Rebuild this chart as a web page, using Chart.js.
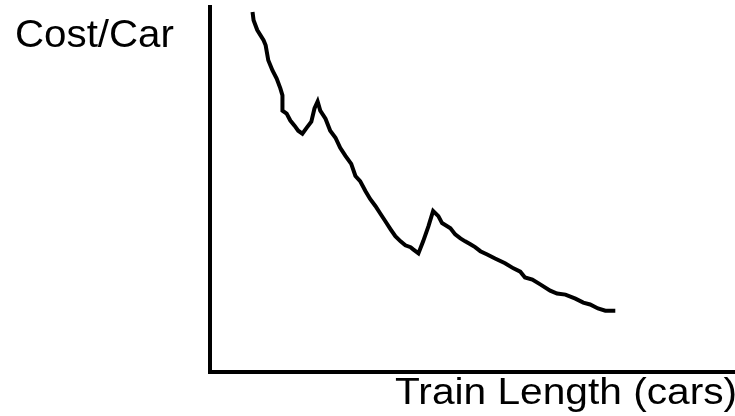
<!DOCTYPE html>
<html>
<head>
<meta charset="utf-8">
<script src="https://cdn.jsdelivr.net/npm/chart.js@4"></script>
<style>
  html, body { margin: 0; padding: 0; background: #fff; }
  #wrap { width: 735px; height: 416px; }
</style>
</head>
<body>
<div id="wrap"><canvas id="myChart" width="735" height="416"></canvas></div>
<script>
// train length (arbitrary units, 0-100 along the axis)
const trainLength = [
  8.1, 8.3, 9.0, 10.2, 10.6, 11.1, 11.9, 12.7, 13.4, 13.8, 13.8, 14.6, 15.3, 16.1, 16.8, 17.6,
  18.4, 19.3, 19.9, 20.5, 21.0, 22.0, 22.9, 23.9, 24.8, 25.8, 26.9, 27.7, 28.6, 29.6, 30.5,
  31.5, 32.4, 33.4, 34.4, 35.3, 36.3, 37.2, 38.2, 38.7, 39.7, 40.6, 41.6, 42.5, 43.5, 44.2,
  45.8, 46.7, 47.7, 48.6, 49.6, 50.5, 51.5, 52.8, 54.3, 56.2, 57.8, 59.1, 60.0, 61.4, 62.9,
  64.8, 66.1, 67.7, 69.6, 71.1, 72.4, 73.9, 75.3, 77.2
];
// cost per car (arbitrary units, 0-100)
const costPerCar = [
  98.6, 96.4, 93.7, 90.9, 89.5, 85.4, 82.6, 80.4, 77.7, 75.8, 71.6, 70.8, 68.9, 67.5, 66.1, 65.3,
  66.9, 68.6, 72.2, 74.1, 71.6, 69.4, 66.1, 64.2, 61.4, 59.2, 57.0, 53.7, 52.3, 49.6, 47.4,
  45.5, 43.5, 41.3, 39.1, 37.2, 35.8, 34.7, 34.2, 33.6, 32.5, 35.8, 39.9, 44.1, 42.7, 40.8,
  39.4, 37.7, 36.6, 35.8, 35.0, 34.2, 33.1, 32.2, 31.1, 29.8, 28.4, 27.5, 25.9, 25.3, 24.0,
  22.3, 21.5, 21.2, 20.1, 19.0, 18.5, 17.4, 16.8, 16.8
];

const yTitle = 'Cost/Car';
const xTitle = 'Train Length (cars)';

const points = trainLength.map((x, i) => ({ x: x, y: costPerCar[i] }));

// draws the two loose labels where the sketch has them (text is a bit wide in the original)
const labelPlugin = {
  id: 'labels',
  afterDraw(chart) {
    const c = chart.ctx;
    c.save();
    c.fillStyle = '#000';
    c.textBaseline = 'alphabetic';
    c.textAlign = 'left';

    c.save();
    c.translate(15, 47);
    c.scale(1.06, 1);
    c.font = '38px "Liberation Sans", Arial, sans-serif';
    c.fillText(yTitle, 0, 0);
    c.restore();

    c.save();
    c.translate(395, 404);
    c.scale(1.13, 1);
    c.font = '36px "Liberation Sans", Arial, sans-serif';
    c.fillText(xTitle, 0, 0);
    c.restore();

    c.restore();
  }
};

const ctx = document.getElementById('myChart').getContext('2d');
const myChart = new Chart(ctx, {
  type: 'line',
  data: {
    datasets: [{
      data: points,
      borderColor: '#000',
      borderWidth: 4,
      pointRadius: 0,
      tension: 0,
      fill: false
    }]
  },
  options: {
    responsive: false,
    animation: false,
    layout: { padding: { left: 202, top: 7, right: 0, bottom: 36 } },
    scales: {
      x: {
        type: 'linear', min: 0, max: 100,
        ticks: { display: false },
        grid: { display: false },
        border: { display: true, color: '#000', width: 4 }
      },
      y: {
        min: 0, max: 100,
        ticks: { display: false },
        grid: { display: false },
        border: { display: true, color: '#000', width: 4 }
      }
    },
    plugins: {
      legend: { display: false },
      tooltip: { enabled: false }
    }
  },
  plugins: [labelPlugin]
});
</script>
</body>
</html>
